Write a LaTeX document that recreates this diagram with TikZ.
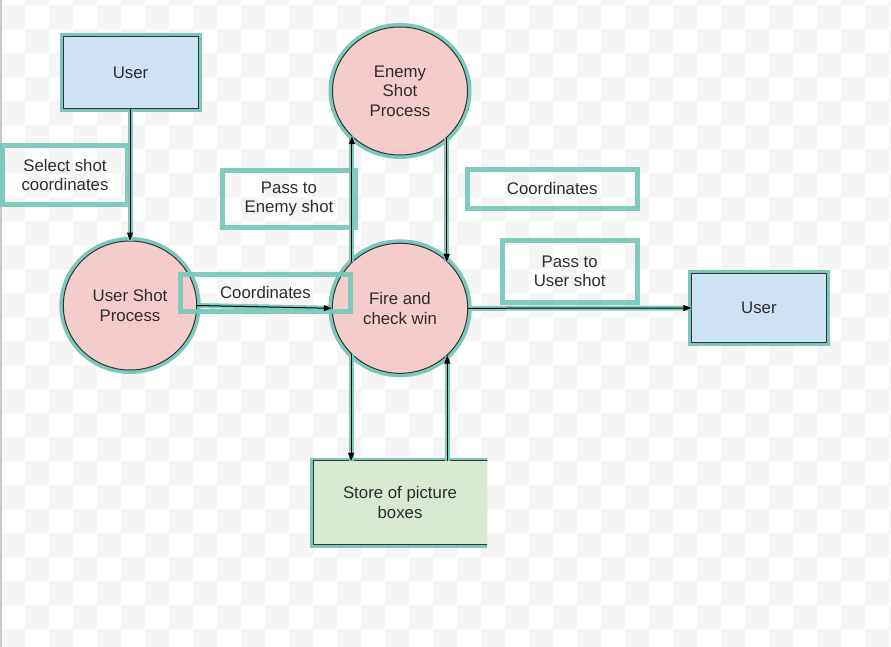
\documentclass[tikz,border=0pt]{standalone}
\usepackage{fontspec}
\setmainfont{Liberation Sans}
\usetikzlibrary{arrows.meta,shapes.geometric}
\definecolor{halo}{RGB}{122,200,188}
\definecolor{bluefill}{RGB}{207,226,243}
\definecolor{pinkfill}{RGB}{244,204,204}
\definecolor{greenfill}{RGB}{217,234,211}
\definecolor{edgec}{RGB}{51,51,51}
\definecolor{txt}{RGB}{45,45,45}
\definecolor{chk}{RGB}{245,245,245}
\definecolor{barc}{RGB}{200,200,200}
\begin{document}
\begin{tikzpicture}[x=1pt,y=-1pt,
  font=\fontsize{16.8}{19.5}\selectfont, text=txt,
  proc/.style={ellipse, fill=pinkfill, draw=edgec, line width=1pt,
    preaction={draw=halo, line width=8pt}, inner sep=0pt, align=center},
  ent/.style={rectangle, fill=bluefill, draw=edgec, line width=1pt,
    preaction={draw=halo, line width=7pt}, inner sep=0pt, align=center},
  lbl/.style={rectangle, draw=halo, draw opacity=.95, line width=5pt,
    inner sep=0pt, align=center},
  flow/.style={draw=black, line width=1pt, -{Triangle[length=8pt,width=6pt]},
    preaction={draw=halo, line width=5pt, -, draw opacity=.95}},
]
\useasboundingbox (0,0) rectangle (891,647);
% transparency-grid background
\begin{scope}
  \clip (0,0) rectangle (891,647);
  \foreach \r in {0,...,27}{
    \pgfmathtruncatemacro\st{mod(\r+1,2)}
    \foreach \c in {0,2,...,36}{
      \fill[chk] ({1+24*(\c+\st)},{-19.3+24*\r}) rectangle ++(24,24);
    }
  }
  \fill[barc] (0,0) rectangle (2,647);
\end{scope}

% main nodes
\node[ent, minimum width=135pt, minimum height=72pt] (user1) at (130.5,73) {\raisebox{-1.5pt}{User}};
\node[proc, minimum width=133.4pt, minimum height=129pt] (usp) at (130,305.5) {User Shot\\Process};
\node[proc, minimum width=135.4pt, minimum height=130pt] (fire) at (400,308.3) {Fire and\\check win};
\node[proc, minimum width=135pt, minimum height=128pt] (enemy) at (400,91) {Enemy\\Shot\\Process};
\node[ent, minimum width=134.3pt, minimum height=69.4pt] (user2) at (758.9,308) {\raisebox{-1pt}{User}};
\begin{scope}
  \clip (0,0) rectangle (487,647);
  \node[rectangle, fill=greenfill, preaction={draw=halo, line width=7pt},
    minimum width=173.4pt, minimum height=83.3pt, inner sep=0pt, align=center]
    (store) at (400,502.7) {Store of picture\\boxes};
\end{scope}
\draw[edgec, line width=1pt] (store.north east) -- (store.north west) -- (store.south west) -- (store.south east);

% labels
\node[lbl, minimum width=125.4pt, minimum height=59.4pt] (l1) at (65,175) {Select shot\\coordinates};
\node[lbl, minimum width=133.4pt, minimum height=57.4pt] (l2) at (289,199) {Pass to\\Enemy shot};
\node[lbl, minimum width=170pt, minimum height=37.7pt] (l3) at (265.4,292.9) {Coordinates};
\node[lbl, minimum width=169.7pt, minimum height=39.5pt] (l4) at (552.2,188.8) {Coordinates};
\node[lbl, minimum width=134.7pt, minimum height=61.5pt] (l5) at (569.7,271.3) {Pass to\\User shot};

% connectors
\draw[flow] (usp.north |- user1.south) -- (usp.north);
\draw[flow] (usp.east) -- (fire.west);
\draw[flow] (fire.136.3) -- (fire.136.3 |- enemy.223.2);
\draw[flow] (enemy.315.7) -- (enemy.315.7 |- fire.44.9);
\draw[flow] (fire.223.7) -- (fire.223.7 |- store.north);
\draw[flow] (store.north -| fire.315.1) -- (fire.315.1);
\draw[flow] (fire.east) -- (user2.west);
\end{tikzpicture}
\end{document}
